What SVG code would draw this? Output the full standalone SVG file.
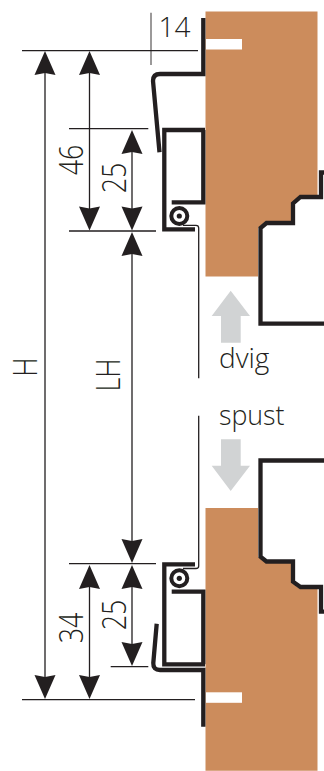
<svg xmlns="http://www.w3.org/2000/svg" width="324" height="771" viewBox="0 0 324 771">
<style>
.t{font-family:"Open Sans","Noto Sans",sans-serif;font-weight:300;font-size:28px;fill:#231f20}
.r{font-size:33.500px;text-anchor:middle}
.d{stroke:#231f20;stroke-width:1.3;fill:none}
.m{stroke:#231f20;stroke-width:4.3;fill:none;stroke-linejoin:miter}
.a{fill:#231f20}
.g{fill:#d1d3d4}
.w{fill:#cc8c5c}
.s{fill:#fff}
</style>
<defs>
<polygon id="au" class="a" points="0,0 10.500,24 0,22 -10.500,24"/>
<polygon id="ad" class="a" points="0,0 10.500,-24 0,-22 -10.500,-24"/>
<g id="roll"><circle r="8" fill="#fff" stroke="#231f20" stroke-width="4"/><circle r="2.600" class="a"/></g>
</defs>
<g id="upper-slab">
<polygon class="w" points="205.500,11.500 317.500,11.500 317.500,195 300,195 292,203 292,221 266,221 258,228 258,276.500 205.500,276.500"/>
<rect class="s" x="206" y="39" width="36" height="10.500"/>
<path class="m" d="M324,172.500H321V197H300.500L293,203.500V223H266.500L260.500,228V323.700H324"/>
</g>
<g id="lower-slab">
<polygon class="w" points="205.500,508 258,508 258,557 266,563 292,563 292,583 300,589 317.500,589 317.500,770.700 205.500,770.700"/>
<rect class="s" x="206" y="692.300" width="36" height="10.500"/>
<path class="m" d="M324,460.500H260.500V556.700L266.500,561.500H293V581.700L300.500,587H321V611.700H324"/>
</g>
<g id="upper-hardware">
<path class="m" d="M203.300,18V74H160Q153,74 153,81L159.500,152.300"/>
<path class="m" d="M205,130H164.300V229.300H195M203.300,130V202.300H171.700"/>
<use href="#roll" x="179.300" y="216"/>
<path class="d" d="M183,225.300H196Q198.700,225.300 198.700,228V378.300"/>
</g>
<g id="lower-hardware">
<path class="m" d="M203.300,726.700V670H160Q153,670 153.300,663L156.700,623.700"/>
<path class="m" d="M205,664.300H164.300V564.300H195M203.300,664.300V591.700H171.700"/>
<use href="#roll" x="179.300" y="578.300"/>
<path class="d" d="M183,568.500H196Q198.700,568.500 198.700,566V415.700"/>
</g>
<g id="motion-arrows">
<polygon class="g" points="230.700,290.700 250,316 240.700,316 240.700,342.700 221,342.700 221,316 211.700,316"/>
<polygon class="g" points="230.700,491 250,465.700 240.700,465.700 240.700,439.300 221,439.300 221,465.700 211.700,465.700"/>
</g>
<g id="connectors">
<path class="d" d="M22,50.700H198M22,699.700H195M69,128.700H148.300M69,231H156M69,563.700H156M110.700,666.700H148.300"/>
<path class="d" stroke-opacity=".7" d="M151,12.700V65"/>
<path class="d" d="M45,60V690M89.500,60V222M132,140V220M132,242V555M89.500,574V690M132,574V656"/>
<use href="#au" x="45" y="51"/>
<use href="#ad" x="45" y="699"/>
<use href="#au" x="89.500" y="51"/>
<use href="#ad" x="89.500" y="230.500"/>
<use href="#au" x="132" y="130"/>
<use href="#ad" x="132" y="230.500"/>
<use href="#au" x="132" y="232"/>
<use href="#ad" x="132" y="563"/>
<use href="#au" x="89.500" y="565"/>
<use href="#ad" x="89.500" y="699"/>
<use href="#au" x="132" y="565"/>
<use href="#ad" x="132" y="666"/>
</g>
<g id="labels">
<text class="t" x="158.500" y="37">14</text>
<text class="t" x="219" y="368">dvig</text>
<text class="t" x="219" y="425" textLength="65.500" lengthAdjust="spacingAndGlyphs">spust</text>
<text class="t r" transform="translate(83 160) rotate(-90) scale(.8 1)">46</text>
<text class="t r" transform="translate(126 178) rotate(-90) scale(.8 1)">25</text>
<text class="t r" transform="translate(37 367) rotate(-90) scale(.8 1)">H</text>
<text class="t r" transform="translate(119.500 375) rotate(-90) scale(.8 1)">LH</text>
<text class="t r" transform="translate(83 628) rotate(-90) scale(.8 1)">34</text>
<text class="t r" transform="translate(126 615) rotate(-90) scale(.8 1)">25</text>
</g>
</svg>
